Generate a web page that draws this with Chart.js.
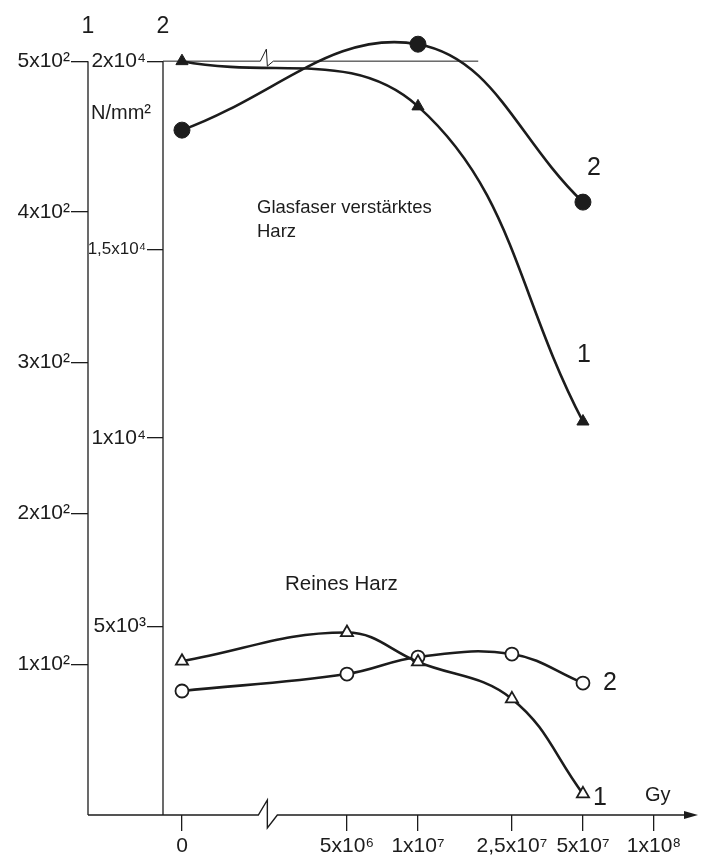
<!DOCTYPE html>
<html>
<head>
<meta charset="utf-8">
<script src="https://cdn.jsdelivr.net/npm/chart.js@4.4.1/dist/chart.umd.min.js"></script>
<style>
    html, body { margin: 0; padding: 0; background: #fff; }
</style>
</head>
<body>
<canvas id="doseChart" width="709" height="857"></canvas>
<script>
// dose 0 is drawn left of the axis break, at the place 1e6 would have
const BREAK_DOSE = 1e6;

const doseTicks = [0, 5e6, 1e7, 2.5e7, 5e7, 1e8];
const doseTickLabels = ['0', '5x10⁶', '1x10⁷', '2,5x10⁷', '5x10⁷', '1x10⁸'];

// axis 1 (outer)
const axis1Ticks = [100, 200, 300, 400, 500];
const axis1TickLabels = ['1x10²', '2x10²', '3x10²', '4x10²', '5x10²'];

// axis 2 (inner)
const axis2Ticks = [5000, 10000, 15000, 20000];
const axis2TickLabels = ['5x10³', '1x10⁴', '1,5x10⁴', '2x10⁴'];

// Glasfaser verstärktes Harz
const glassDoses = [0, 1e7, 5e7];
const glassCurve1 = [500, 470, 261];
const glassCurve2 = [18170, 20450, 16260];

// Reines Harz
const resinDoses = [0, 5e6, 1e7, 2.5e7, 5e7];
const resinCurve1 = [102, 121, 101.5, 77, 14];
const resinCurve2 = [3290, 3740, 4190, 4270, 3500];

const ink = '#1c1c1c';
const fontFamily = '"Liberation Sans", Arial, sans-serif';

function doseToX(d) {
    return d === 0 ? BREAK_DOSE : d;
}

function points(doses, values) {
    return doses.map((d, i) => ({ x: doseToX(d), y: values[i] }));
}

function series(data, axis, style, filled, radius) {
    return {
        data: data,
        yAxisID: axis,
        borderColor: ink,
        borderWidth: 2.6,
        tension: 0.4,
        pointStyle: style,
        pointRadius: radius,
        pointBackgroundColor: filled ? ink : '#fff',
        pointBorderColor: ink,
        pointBorderWidth: filled ? 1 : 1.8,
        clip: false
    };
}

const decorations = {
    id: 'decorations',
    beforeDatasetsDraw(chart) {
        const ctx = chart.ctx;
        const area = chart.chartArea;
        const y1 = chart.scales.y1;
        const y2 = chart.scales.y2;
        ctx.save();
        ctx.strokeStyle = ink;
        ctx.lineWidth = 1.3;
        ctx.beginPath();
        ctx.moveTo(y1.right, y1.getPixelForValue(axis1Ticks[axis1Ticks.length - 1]));
        ctx.lineTo(y1.right, area.bottom);
        ctx.moveTo(area.left, y2.getPixelForValue(axis2Ticks[axis2Ticks.length - 1]));
        ctx.lineTo(area.left, area.bottom);
        ctx.stroke();
        ctx.restore();
    },
    afterDatasetsDraw(chart) {
        const ctx = chart.ctx;
        const area = chart.chartArea;
        const x = chart.scales.x;
        const y1 = chart.scales.y1;
        const y2 = chart.scales.y2;
        const brk = x.getPixelForValue(2.3e6);

        ctx.save();
        ctx.strokeStyle = ink;
        ctx.fillStyle = ink;
        ctx.lineWidth = 1.4;

        // base line with break and arrow
        const by = area.bottom;
        ctx.beginPath();
        ctx.moveTo(y1.right, by);
        ctx.lineTo(brk - 9, by);
        ctx.lineTo(brk, by - 15);
        ctx.lineTo(brk, by + 13);
        ctx.lineTo(brk + 10, by);
        ctx.lineTo(area.right - 12, by);
        ctx.stroke();
        ctx.beginPath();
        ctx.moveTo(area.right, by);
        ctx.lineTo(area.right - 14, by - 4);
        ctx.lineTo(area.right - 14, by + 4);
        ctx.closePath();
        ctx.fill();

        // top line at 2x10^4 with break
        const ty = y2.getPixelForValue(axis2Ticks[axis2Ticks.length - 1]);
        ctx.lineWidth = 1;
        ctx.beginPath();
        ctx.moveTo(area.left, ty);
        ctx.lineTo(brk - 7, ty);
        ctx.lineTo(brk - 1, ty - 12);
        ctx.lineTo(brk, ty + 5);
        ctx.lineTo(brk + 6, ty);
        ctx.lineTo(x.getPixelForValue(1.8e7), ty);
        ctx.stroke();

        ctx.textBaseline = 'middle';
        ctx.textAlign = 'center';
        ctx.font = '23px ' + fontFamily;
        ctx.fillText('1', y1.right, 27);
        ctx.fillText('2', area.left, 27);

        ctx.font = '25px ' + fontFamily;
        ctx.fillText('2', 594, 168);
        ctx.fillText('1', 584, 355);
        ctx.fillText('2', 610, 683);
        ctx.fillText('1', 600, 798);

        ctx.textAlign = 'left';
        ctx.font = '20px ' + fontFamily;
        ctx.fillText('N/mm²', 91, 113);
        ctx.fillText('Gy', 645, 795);

        ctx.font = '18.5px ' + fontFamily;
        ctx.fillText('Glasfaser verstärktes', 257, 208);
        ctx.fillText('Harz', 257, 232);
        ctx.font = '20.5px ' + fontFamily;
        ctx.fillText('Reines Harz', 285, 584);
        ctx.restore();
    }
};

const tickFont = { family: fontFamily, size: 21 };

const chart = new Chart(document.getElementById('doseChart').getContext('2d'), {
    type: 'line',
    data: {
        datasets: [
            series(points(glassDoses, glassCurve1), 'y1', 'triangle', true, 7),
            series(points(glassDoses, glassCurve2), 'y2', 'circle', true, 8),
            series(points(resinDoses, resinCurve1), 'y1', 'triangle', false, 7),
            series(points(resinDoses, resinCurve2), 'y2', 'circle', false, 6.5)
        ]
    },
    options: {
        responsive: false,
        animation: false,
        layout: { padding: { left: 0, right: 11, top: 31, bottom: 0 } },
        elements: { line: { capBezierPoints: false } },
        plugins: {
            legend: { display: false },
            tooltip: { enabled: false }
        },
        scales: {
            x: {
                type: 'logarithmic',
                min: 8.31e5,
                max: 1.536e8,
                afterBuildTicks: function (scale) {
                    scale.ticks = doseTicks.map(d => ({ value: doseToX(d) }));
                },
                afterFit: function (scale) { scale.height = 42; },
                ticks: {
                    callback: (v, i) => doseTickLabels[i],
                    autoSkip: false,
                    maxRotation: 0,
                    padding: 3,
                    color: ink,
                    font: tickFont
                },
                grid: { drawOnChartArea: false, tickLength: 16, color: ink, lineWidth: 1.3 },
                border: { display: false }
            },
            y2: {
                position: 'left',
                weight: 0,
                min: 0,
                max: 20800,
                afterBuildTicks: function (scale) {
                    scale.ticks = axis2Ticks.map(v => ({ value: v }));
                },
                afterFit: function (scale) { scale.width = 75; },
                ticks: {
                    callback: (v, i) => axis2TickLabels[i],
                    padding: 1,
                    color: ink,
                    font: function (c) {
                        const label = axis2TickLabels[c.index] || '';
                        return { family: fontFamily, size: label.length > 5 ? 17 : 21 };
                    }
                },
                grid: { drawOnChartArea: false, tickLength: 16, color: ink, lineWidth: 1.3 },
                border: { display: false }
            },
            y1: {
                position: 'left',
                weight: 1,
                min: 0,
                max: 520,
                afterBuildTicks: function (scale) {
                    scale.ticks = axis1Ticks.map(v => ({ value: v }));
                },
                afterFit: function (scale) { scale.width = 88; },
                ticks: {
                    callback: (v, i) => axis1TickLabels[i],
                    padding: 1,
                    color: ink,
                    font: tickFont
                },
                grid: { drawOnChartArea: false, tickLength: 17, color: ink, lineWidth: 1.3 },
                border: { display: false }
            }
        }
    },
    plugins: [decorations]
});
</script>
</body>
</html>
